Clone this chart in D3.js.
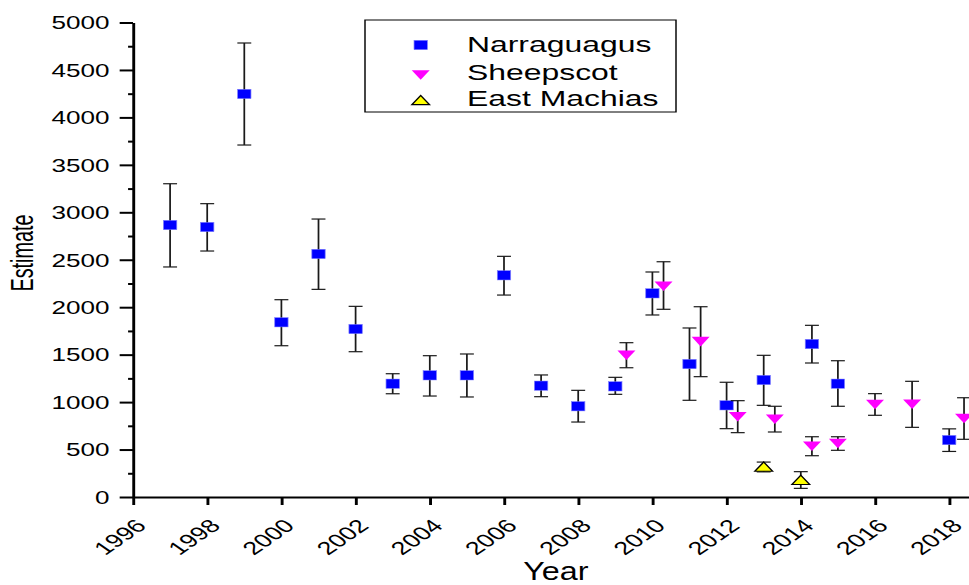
<!DOCTYPE html>
<html>
<head>
<meta charset="utf-8">
<script src="https://cdn.jsdelivr.net/npm/d3@7"></script>
<style>
  html, body { margin: 0; padding: 0; background: #fff; }
  svg { display: block; }
  text { font-family: "Liberation Sans", Arial, sans-serif; fill: #000; }
</style>
</head>
<body>
<svg id="chart"></svg>
<script>
'use strict';

// Narraguagus estimates with error bar ends
var yearsN = [1997, 1998, 1999, 2000, 2001, 2002, 2003, 2004, 2005, 2006, 2007, 2008, 2009, 2010, 2011, 2012, 2013, 2014.3, 2015, 2018];
var valuesN = [2866, 2845, 4247, 1841, 2561, 1770, 1194, 1282, 1282, 2336, 1173, 956, 1166, 2146, 1401, 966, 1233, 1612, 1194, 600];
var lowerN = [2424, 2592, 3709, 1594, 2188, 1531, 1088, 1064, 1054, 2128, 1057, 790, 1082, 1918, 1019, 720, 966, 1412, 956, 480];
var upperN = [3301, 3091, 4784, 2079, 2929, 2009, 1299, 1489, 1507, 2536, 1286, 1124, 1261, 2371, 1781, 1209, 1493, 1809, 1436, 718];

// Sheepscot (plotted slightly offset to the right of the year)
var yearsS = [2009.3, 2010.3, 2011.3, 2012.3, 2013.3, 2014.3, 2015, 2016, 2017, 2018.4];
var valuesS = [1494, 2220, 1637, 846, 820, 535, 564, 975, 977, 827];
var lowerS = [1362, 1978, 1268, 678, 685, 435, 492, 861, 734, 608];
var upperS = [1626, 2479, 2005, 1015, 956, 635, 635, 1089, 1219, 1046];

// East Machias
var yearsE = [2013, 2014];
var valuesE = [320, 180];
var lowerE = [265, 91];
var upperE = [368, 267];

var seriesNames = ['Narraguagus', 'Sheepscot', 'East Machias'];
var xTicks = d3.range(1996, 2019, 2);
var yTicks = d3.range(0, 5001, 500);
var yMinorTicks = d3.range(250, 5000, 500);

// the source picture is stretched horizontally, so draw in a narrower box and stretch it
var W = 969, H = 585, SX = 1.45;
var VW = W / SX;

var svg = d3.select('#chart')
  .attr('width', W).attr('height', H)
  .attr('viewBox', '0 0 ' + VW + ' ' + H)
  .attr('preserveAspectRatio', 'none');

var x = d3.scaleLinear().domain([1996, 2018.55]).range([133 / SX, 969.6 / SX]);
var y = d3.scaleLinear().domain([0, 5000]).range([497, 22.5]);

function rows(xs, vs, lo, hi) {
  return xs.map(function(d, i) { return { x: d, v: vs[i], lo: lo[i], hi: hi[i] }; });
}

// axes
var gx = svg.append('g').attr('class', 'x axis').attr('transform', 'translate(0,' + y(0) + ')')
  .call(d3.axisBottom(x).tickValues(xTicks).tickFormat(d3.format('d')).tickSize(8).tickSizeOuter(0));
gx.selectAll('text')
  .attr('x', 0).attr('y', 0).attr('dy', 0)
  .attr('text-anchor', 'end')
  .attr('transform', 'translate(9.5,30) rotate(-45)')
  .style('font-size', '18.5px');

var gy = svg.append('g').attr('class', 'y axis').attr('transform', 'translate(' + x(1996) + ',0)')
  .call(d3.axisLeft(y).tickValues(yTicks).tickFormat(d3.format('d')).tickSize(9.2).tickPadding(7).tickSizeOuter(0));
gy.selectAll('text').style('font-size', '18px').attr('dy', '0.35em');

var gyMinor = svg.append('g').attr('transform', 'translate(' + x(1996) + ',0)')
  .call(d3.axisLeft(y).tickValues(yMinorTicks).tickSize(3.4).tickFormat(''));
gyMinor.select('.domain').remove();

svg.selectAll('.domain, .tick line').attr('stroke', '#000').attr('stroke-width', 2);
svg.selectAll('.tick text').attr('fill', '#000');

// axis titles
svg.append('text')
  .attr('transform', 'translate(23,253) rotate(-90)')
  .attr('text-anchor', 'middle')
  .attr('textLength', 77).attr('lengthAdjust', 'spacingAndGlyphs')
  .style('font-size', '21px')
  .text('Estimate');

svg.append('text')
  .attr('x', 555.8 / SX).attr('y', 580)
  .attr('text-anchor', 'middle')
  .attr('textLength', 45).attr('lengthAdjust', 'spacingAndGlyphs')
  .style('font-size', '25px')
  .text('Year');

// markers
var symSquare = function(g) {
  g.append('rect').attr('x', -4.6).attr('y', -4.65).attr('width', 9.2).attr('height', 9.3)
    .attr('fill', '#0000ff').attr('stroke', '#7f7fff').attr('stroke-width', 0.5);
};
var symDown = function(g) {
  g.append('path').attr('d', 'M-6.2,-4.8L6.2,-4.8L0,4.8Z').attr('fill', '#ff00ff');
};
var symUp = function(g) {
  g.append('path').attr('d', 'M-6.1,4.6L6.1,4.6L0,-4.6Z')
    .attr('fill', '#ffff00').attr('stroke', '#000').attr('stroke-width', 1.1);
};

function drawSeries(data, sym) {
  var g = svg.append('g');
  var bars = g.selectAll('g.err').data(data).enter().append('g').attr('class', 'err')
    .attr('stroke', '#1a1a1a').attr('stroke-width', 1.2);
  bars.append('line')
    .attr('x1', function(d) { return x(d.x); }).attr('x2', function(d) { return x(d.x); })
    .attr('y1', function(d) { return y(d.lo); }).attr('y2', function(d) { return y(d.hi); });
  bars.append('line')
    .attr('x1', function(d) { return x(d.x) - 4.8; }).attr('x2', function(d) { return x(d.x) + 4.8; })
    .attr('y1', function(d) { return y(d.hi); }).attr('y2', function(d) { return y(d.hi); });
  bars.append('line')
    .attr('x1', function(d) { return x(d.x) - 4.8; }).attr('x2', function(d) { return x(d.x) + 4.8; })
    .attr('y1', function(d) { return y(d.lo); }).attr('y2', function(d) { return y(d.lo); });
  g.selectAll('g.pt').data(data).enter().append('g').attr('class', 'pt')
    .attr('transform', function(d) { return 'translate(' + x(d.x) + ',' + y(d.v) + ')'; })
    .each(function() { sym(d3.select(this)); });
}

drawSeries(rows(yearsN, valuesN, lowerN, upperN), symSquare);
drawSeries(rows(yearsS, valuesS, lowerS, upperS), symDown);
drawSeries(rows(yearsE, valuesE, lowerE, upperE), symUp);

// legend
var legend = svg.append('g');
legend.append('rect')
  .attr('x', 365 / SX).attr('y', 20).attr('width', (676 - 365) / SX).attr('height', 92)
  .attr('fill', '#fff').attr('stroke', '#000').attr('stroke-width', 1);
var syms = [symSquare, symDown, symUp];
var markY = [45, 75, 100];
var baseY = [51.7, 80, 106.5];
seriesNames.forEach(function(name, i) {
  var m = legend.append('g').attr('transform', 'translate(' + (420.7 / SX) + ',' + markY[i] + ')');
  syms[i](m);
  legend.append('text')
    .attr('x', 467 / SX).attr('y', baseY[i])
    .style('font-size', '22px')
    .text(name);
});
</script>
</body>
</html>
